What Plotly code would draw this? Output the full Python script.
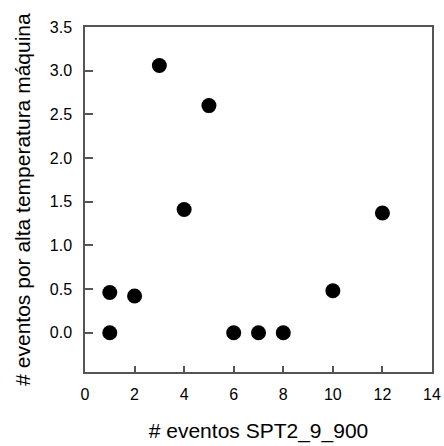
import plotly.graph_objects as go

x_vals = [1, 1, 2, 3, 4, 5, 6, 7, 8, 10, 12]
y_vals = [0.0, 0.46, 0.42, 3.06, 1.41, 2.60, 0.0, 0.0, 0.0, 0.48, 1.37]
x_ticks = [0, 2, 4, 6, 8, 10, 12, 14]
y_ticks = [0.0, 0.5, 1.0, 1.5, 2.0, 2.5, 3.0, 3.5]
y_ticktext = ["0.0", "0.5", "1.0", "1.5", "2.0", "2.5", "3.0", "3.5"]

fig = go.Figure(go.Scatter(
    x=x_vals, y=y_vals, mode="markers",
    marker=dict(color="black", size=15, line=dict(width=0)),
))

font = "Liberation Sans, Arial, sans-serif"
fig.update_layout(
    width=444, height=446,
    margin=dict(l=85, r=12, t=27, b=74),
    plot_bgcolor="white", paper_bgcolor="white",
    showlegend=False,
    font=dict(family=font, color="black"),
)
fig.update_xaxes(
    range=[0, 14], tickvals=x_ticks, automargin=False,
    ticks="inside", ticklen=6, tickwidth=1.5, tickcolor="#555555",
    showgrid=False, zeroline=False,
    showline=True, linecolor="#555555", linewidth=1.5, mirror=True,
    tickfont=dict(size=16, family=font, color="black"),
    ticklabelstandoff=7,
    title=dict(text="# eventos SPT2_9_900", font=dict(size=21, family=font), standoff=21),
)
fig.update_yaxes(
    range=[-0.45, 3.5], tickvals=y_ticks, ticktext=y_ticktext, automargin=False,
    ticks="inside", ticklen=8, tickwidth=1.5, tickcolor="#555555",
    showgrid=False, zeroline=False,
    showline=True, linecolor="#555555", linewidth=1.5, mirror=True,
    tickfont=dict(size=16, family=font, color="black"),
    ticklabelstandoff=8,
    title=dict(text="# eventos por alta temperatura máquina", font=dict(size=21, family=font), standoff=13),
)
fig.write_html("out.html")
